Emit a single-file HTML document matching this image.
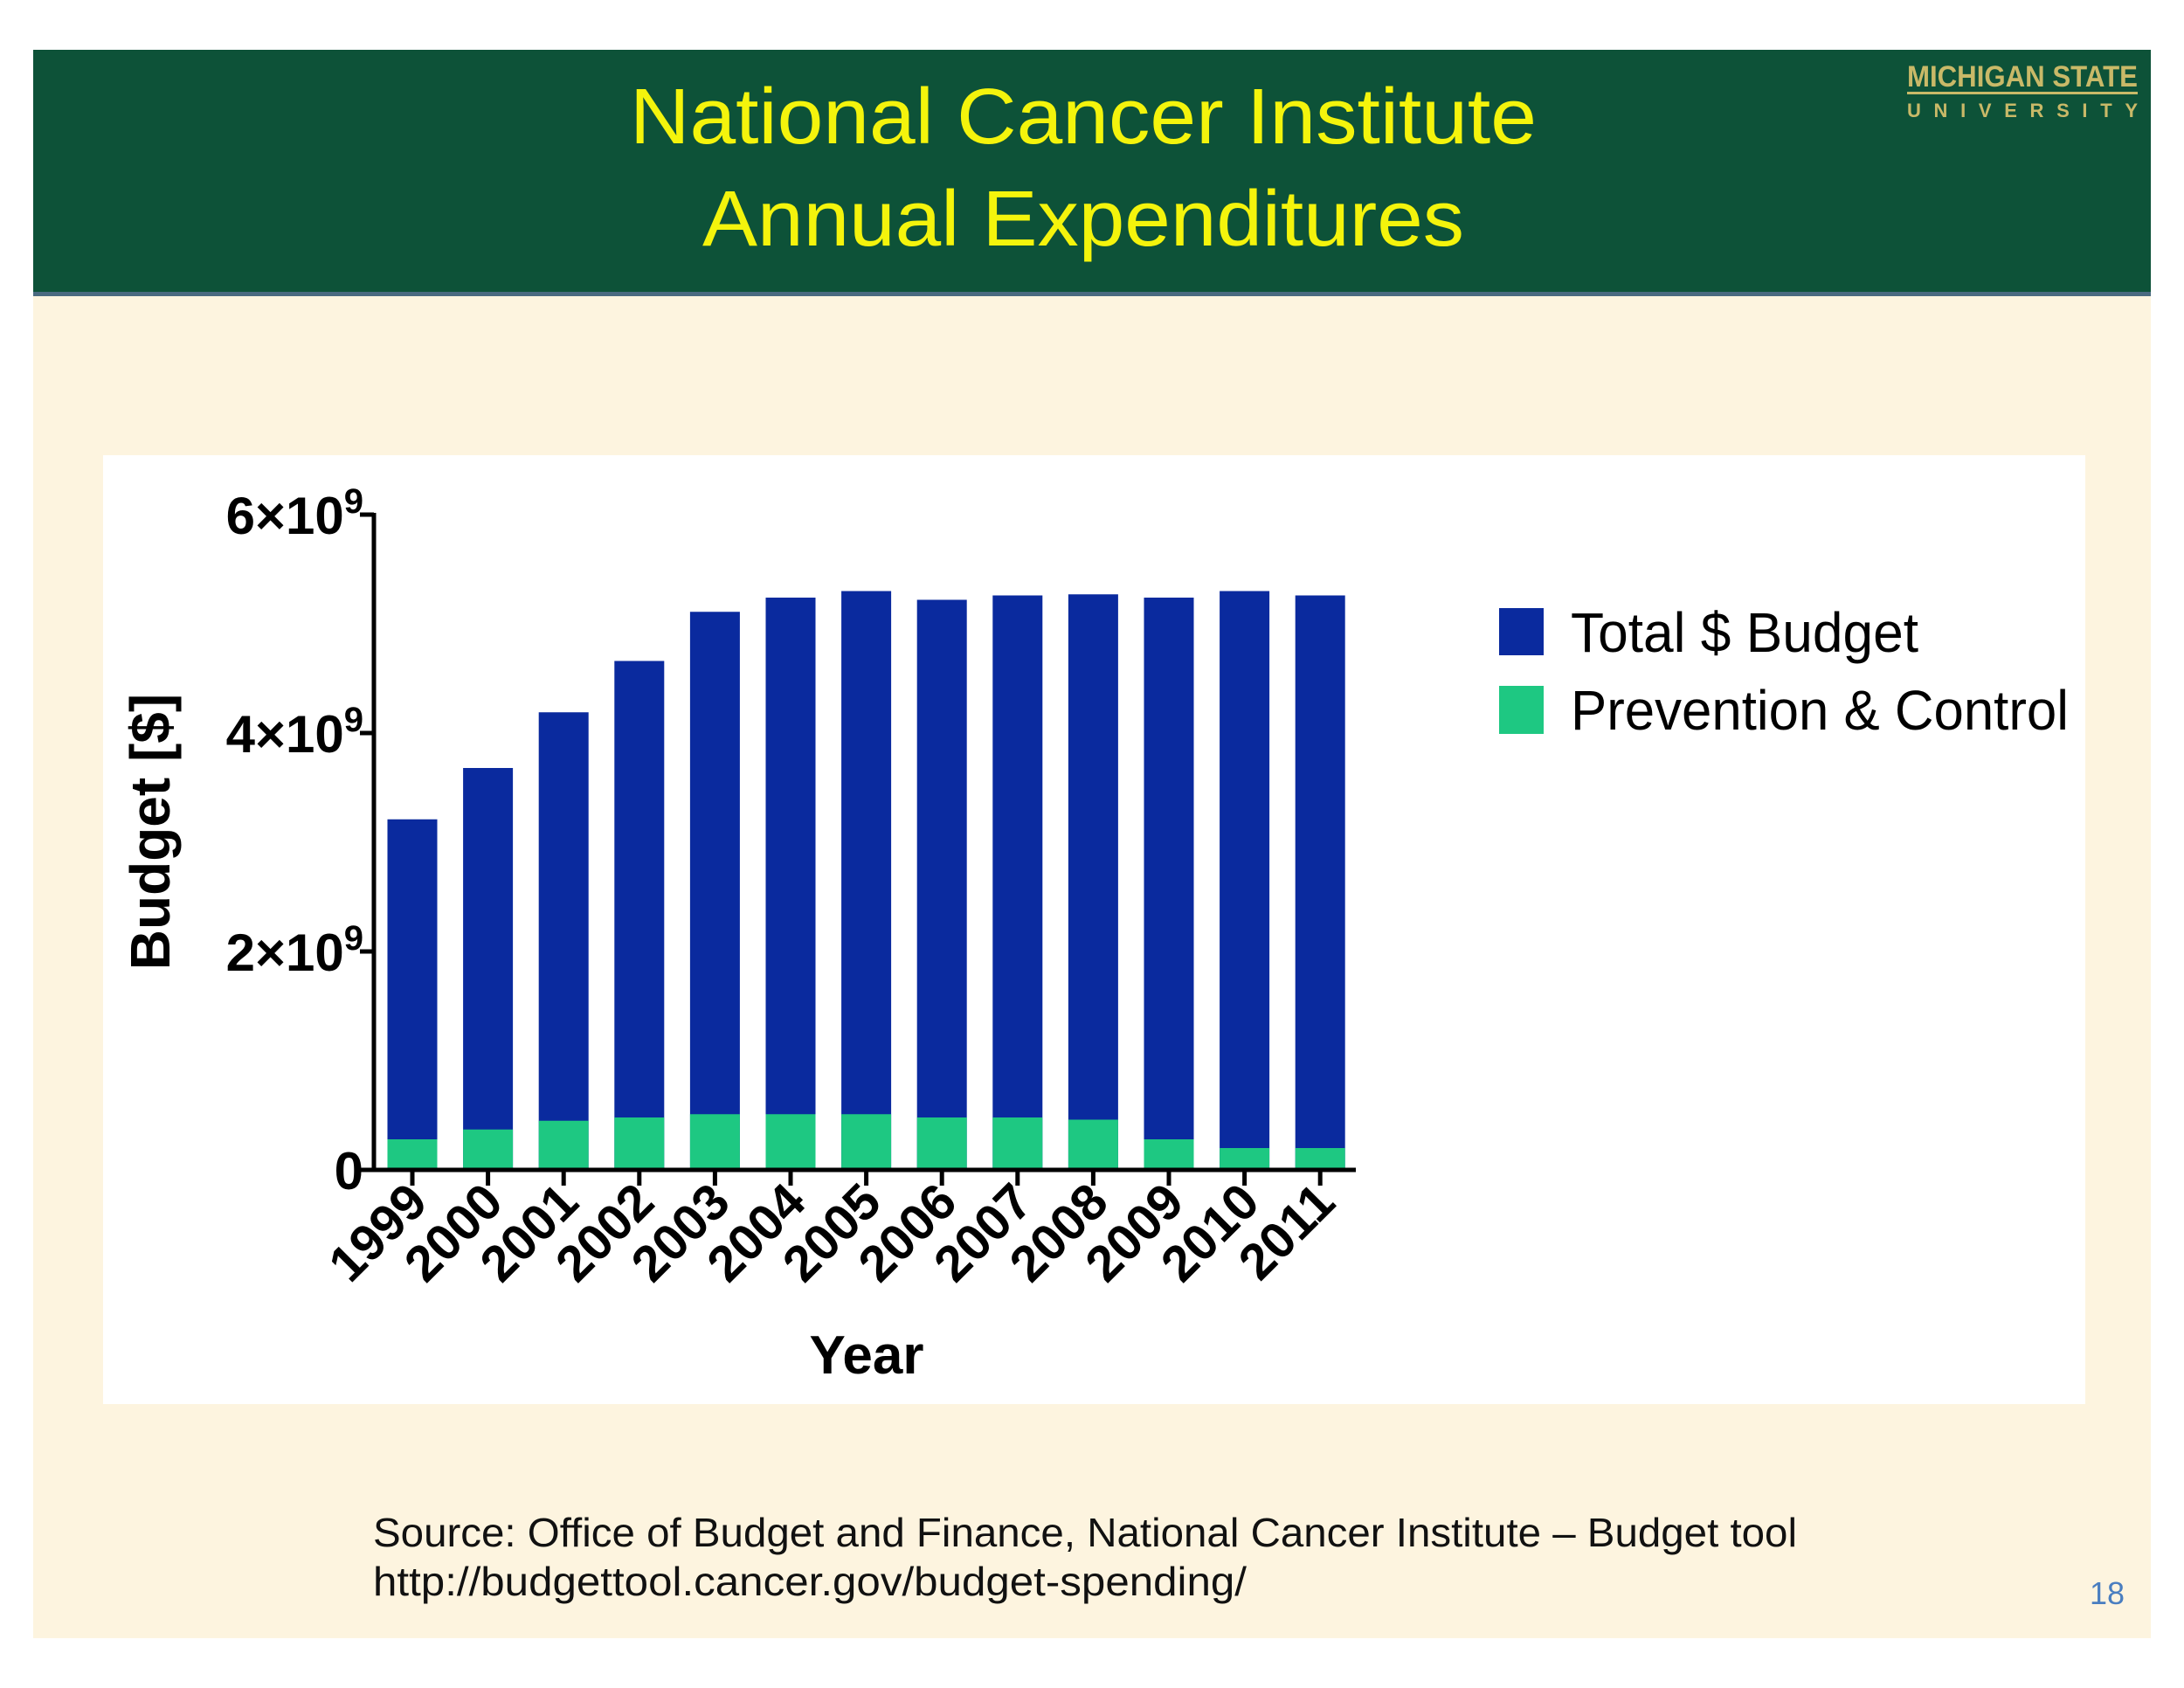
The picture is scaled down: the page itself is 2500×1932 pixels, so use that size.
<!DOCTYPE html>
<html><head><meta charset="utf-8"><style>
html,body{margin:0;padding:0;background:#fff;}
svg{display:block;}
text{font-family:"Liberation Sans",sans-serif;}
</style></head><body>
<svg id="chart" width="2500" height="1932" viewBox="0 0 2500 1932" xmlns="http://www.w3.org/2000/svg">
  <rect x="0" y="0" width="2500" height="1932" fill="#ffffff"/>
  <rect x="38" y="338" width="2424" height="1537" fill="#fdf4df"/>
  <rect x="38" y="57" width="2424" height="281" fill="#0d5238"/>
  <rect x="38" y="334" width="2424" height="5" fill="#4a6a80"/>
  <text x="1240" y="164" font-size="90" fill="#f4f40c" text-anchor="middle" textLength="1038" lengthAdjust="spacingAndGlyphs">National Cancer Institute</text>
  <text x="1240" y="281" font-size="90" fill="#f4f40c" text-anchor="middle" textLength="872" lengthAdjust="spacingAndGlyphs">Annual Expenditures</text>
  <g>
    <text x="2183" y="99" font-size="34" font-weight="bold" fill="#c9b968" font-family="Liberation Serif" textLength="264" lengthAdjust="spacingAndGlyphs">MICHIGAN STATE</text>
    <rect x="2183" y="105" width="264" height="3" fill="#c9b968"/>
    <text x="2183" y="134" font-size="22" font-weight="bold" fill="#c9b968" font-family="Liberation Serif" textLength="264" lengthAdjust="spacing">UNIVERSITY</text>
  </g>
  <rect x="118" y="521" width="2269" height="1086" fill="#ffffff"/>
  <g id="plot"></g>
  <g>
    <rect x="1716" y="696" width="51" height="54" fill="#0a2a9e"/>
    <text x="1798" y="746" font-size="64" fill="#000" textLength="398" lengthAdjust="spacingAndGlyphs">Total $ Budget</text>
    <rect x="1716" y="785" width="51" height="55" fill="#1ec882"/>
    <text x="1798" y="835" font-size="64" fill="#000" textLength="570" lengthAdjust="spacingAndGlyphs">Prevention &amp; Control</text>
  </g>
  <text x="427" y="1770" font-size="46" fill="#111" textLength="1630" lengthAdjust="spacingAndGlyphs">Source: Office of Budget and Finance, National Cancer Institute – Budget tool</text>
  <text x="427" y="1826" font-size="46" fill="#111" textLength="1000" lengthAdjust="spacingAndGlyphs">http://budgettool.cancer.gov/budget-spending/</text>
  <text x="2392" y="1836" font-size="36" fill="#4a7ec0">18</text>
</svg>
<script>
const years = ["1999","2000","2001","2002","2003","2004","2005","2006","2007","2008","2009","2010","2011"];
const totalBudget = [3.21e9,3.68e9,4.19e9,4.66e9,5.11e9,5.24e9,5.30e9,5.22e9,5.26e9,5.27e9,5.24e9,5.30e9,5.26e9];
const prevention = [0.28e9,0.37e9,0.45e9,0.48e9,0.51e9,0.51e9,0.51e9,0.48e9,0.48e9,0.46e9,0.28e9,0.20e9,0.20e9];
const yTicks = [0,2e9,4e9,6e9];
const yTickLabels = ["0","2×10","4×10","6×10"];

const NS = "http://www.w3.org/2000/svg";
const plot = document.getElementById('plot');
const X0 = 428, Y0 = 1339, YTOP = 589, YMAX = 6e9;
const firstCenter = 472, step = 86.6, barW = 57;
function yScale(v){ return Y0 - (v / YMAX) * (Y0 - YTOP); }
function xScale(i){ return firstCenter + i * step; }
function mk(tag, attrs){ const e = document.createElementNS(NS, tag); for (const k in attrs) e.setAttribute(k, attrs[k]); plot.appendChild(e); return e; }

years.forEach((yr, i) => {
  const cx = xScale(i);
  const b = mk('rect', {x: cx - barW/2, y: yScale(totalBudget[i]), width: barW, height: Y0 - yScale(totalBudget[i]), fill: '#0a2a9e'});
  
  
  const g = mk('rect', {x: cx - barW/2, y: yScale(prevention[i]), width: barW, height: Y0 - yScale(prevention[i]), fill: '#1ec882'});
  
  
  const t = mk('line', {x1: cx, y1: Y0, x2: cx, y2: Y0 + 18, stroke: '#000', 'stroke-width': 5});
  
  
  const lx = cx + 20, ly = Y0 + 40;
  const l = mk('text', {x: lx, y: ly, 'font-size': 58, 'font-weight': 'bold', 'text-anchor': 'end', transform: 'rotate(-45 ' + lx + ' ' + ly + ')'});
  l.textContent = yr;
  
  
});

yTicks.forEach((v, i) => {
  const y = yScale(v);
  const t = mk('line', {x1: X0 - 16, y1: y, x2: X0, y2: y, stroke: '#000', 'stroke-width': 5});
  
  
  const l = mk('text', {x: X0 - 12, y: y + 22, 'font-size': 60, 'font-weight': 'bold', 'text-anchor': 'end'});
  l.textContent = yTickLabels[i];
  if (v !== 0) {
    const s = document.createElementNS(NS, 'tspan');
    s.setAttribute('dy', '-24');
    s.setAttribute('font-size', '40');
    s.textContent = '9';
    l.appendChild(s);
  }
  
  
});

const ya = mk('line', {x1: X0, y1: YTOP - 2, x2: X0, y2: Y0 + 2, stroke: '#000', 'stroke-width': 5});


const xa = mk('line', {x1: X0 - 16, y1: Y0, x2: 1552, y2: Y0, stroke: '#000', 'stroke-width': 5});



const yt = mk('text', {x: 194, y: 952, 'font-size': 64, 'font-weight': 'bold', 'text-anchor': 'middle', transform: 'rotate(-90 194 952)'});
yt.textContent = 'Budget [$]';


const xt = mk('text', {x: 992, y: 1572, 'font-size': 62, 'font-weight': 'bold', 'text-anchor': 'middle'});
xt.textContent = 'Year';


</script>
</body></html>
